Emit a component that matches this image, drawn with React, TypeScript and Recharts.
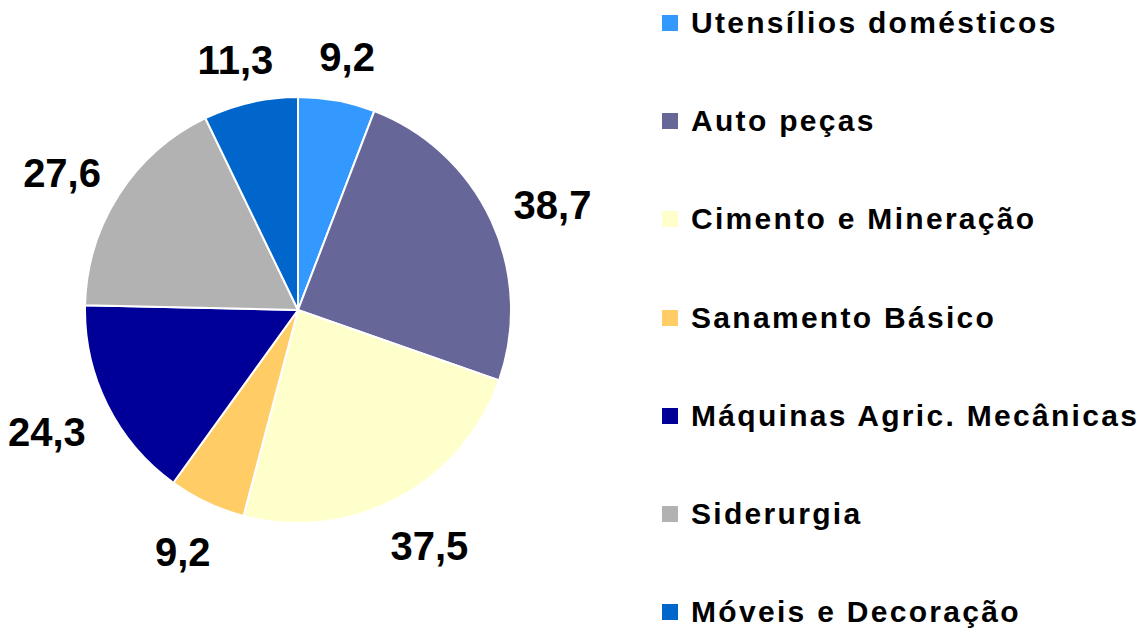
import React from "react";
import { PieChart, Pie, Cell, Legend } from "recharts";

const categories = [
  "Utensílios domésticos",
  "Auto peças",
  "Cimento e Mineração",
  "Sanamento Básico",
  "Máquinas Agric. Mecânicas",
  "Siderurgia",
  "Móveis e Decoração",
];
const values = [9.2, 38.7, 37.5, 9.2, 24.3, 27.6, 11.3];
const colors = ["#3399FF", "#666699", "#FFFFCC", "#FFCC66", "#000099", "#B2B2B2", "#0066CC"];

const data = categories.map((name, i) => ({ name, value: values[i] }));

const FONT = "'Liberation Sans', Arial, sans-serif";
const RAD = Math.PI / 180;

// outside-end label: the text box sits just off the rim, pushed out by its own half size
const renderLabel = (props: any) => {
  const { cx, cy, midAngle, value } = props;
  const text = String(value).replace(".", ",");
  const w = text.replace(",", "").length * 22 + 11;
  const h = 40;
  const dx = Math.cos(-midAngle * RAD);
  const dy = Math.sin(-midAngle * RAD);
  const r = 242;
  const x = cx + r * dx + (w / 2) * dx;
  const y = cy + r * dy + (h / 2) * dy + 5;
  return (
    <text
      x={x}
      y={y}
      textAnchor="middle"
      dominantBaseline="central"
      fill="#000"
      fontSize={40}
      fontWeight="bold"
      fontFamily={FONT}
    >
      {text}
    </text>
  );
};

// legend rows, spaced as in the original
const renderLegend = () => (
  <div style={{ position: "relative", fontFamily: FONT }}>
    {categories.map((name, i) => (
      <div
        key={name}
        style={{
          position: "absolute",
          left: 0,
          top: 23 + i * 98.2 - 20,
          height: 40,
          display: "flex",
          alignItems: "center",
          whiteSpace: "nowrap",
        }}
      >
        <span style={{ width: 16, height: 16, background: colors[i], display: "inline-block", marginRight: 13 }} />
        <span style={{ fontSize: 30, fontWeight: "bold", color: "#000", letterSpacing: 2.3 }}>{name}</span>
      </div>
    ))}
  </div>
);

export default function App() {
  return (
    <div style={{ position: "absolute", left: 0, top: 0, background: "#fff" }}>
      <PieChart width={1147} height={630} margin={{ top: 0, right: 0, bottom: 0, left: 0 }}>
        <Pie
          data={data}
          dataKey="value"
          nameKey="name"
          cx={298}
          cy={310}
          outerRadius={213}
          startAngle={90}
          endAngle={-270}
          stroke="#fff"
          strokeWidth={2}
          label={renderLabel}
          labelLine={false}
          isAnimationActive={false}
        >
          {data.map((d, i) => (
            <Cell key={d.name} fill={colors[i]} />
          ))}
        </Pie>
        <Legend
          content={renderLegend}
          wrapperStyle={{ position: "absolute", left: 662, top: 0, width: 485, height: 630 }}
        />
      </PieChart>
    </div>
  );
}
